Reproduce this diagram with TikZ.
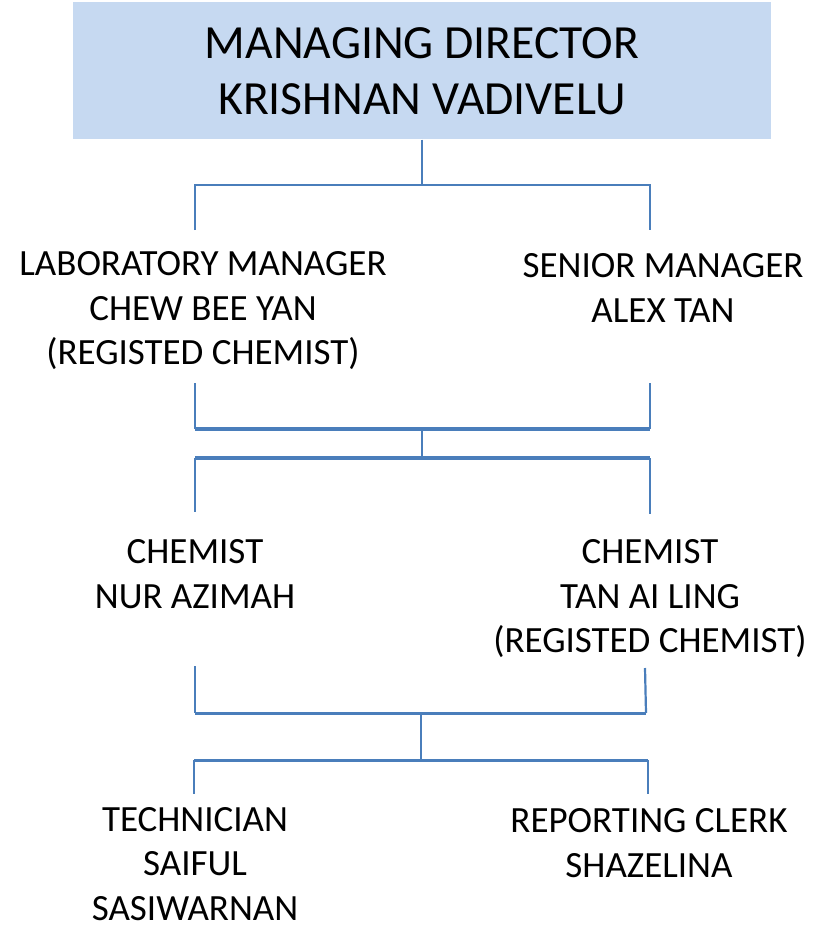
\documentclass[tikz,border=0pt]{standalone}
\usepackage{fontspec}
\setmainfont{Carlito}
\definecolor{boxblue}{HTML}{C6D9F1}
\definecolor{lineblue}{HTML}{4A7EBB}
\begin{document}
\begin{tikzpicture}[x=1pt,y=-1pt,
  person/.style={align=center,inner sep=0pt,font=\fontsize{37}{44.5}\selectfont},
  conn/.style={draw=lineblue,line width=2.2pt},
  connthick/.style={draw=lineblue,line width=4pt},
  connmid/.style={draw=lineblue,line width=3pt}]
\useasboundingbox (0,0) rectangle (820,925);
\node[fill=boxblue,minimum width=698pt,minimum height=137pt,inner sep=0pt,align=center,
      font=\fontsize{47.6}{55.5}\selectfont] (md) at (422,71) {MANAGING DIRECTOR\\KRISHNAN VADIVELU};
\node[person] (lab) at (203,311) {LABORATORY MANAGER\\CHEW BEE YAN\\(REGISTED CHEMIST)};
\node[person] (sen) at (663,288) {SENIOR MANAGER\\ALEX TAN};
\node[person] (ch1) at (195,574) {CHEMIST\\NUR AZIMAH};
\node[person] (ch2) at (650,599) {CHEMIST\\TAN AI LING\\(REGISTED CHEMIST)};
\node[person] (tec) at (195,864) {TECHNICIAN\\SAIFUL\\SASIWARNAN};
\node[person] (clk) at (649,843) {REPORTING CLERK\\SHAZELINA};
% level 1 junction
\coordinate (a0) at (422,185);
\coordinate (aL) at (195,185); \coordinate (aR) at (650,185);
\coordinate (aLe) at (195,230); \coordinate (aRe) at (650,230);
\draw[conn] (md.south -| a0) -- (a0);
\draw[conn] (aLe) -- (aL) -- (aR) -- (aRe);
% level 2 junction
\coordinate (bLs) at (195,383); \coordinate (bRs) at (650,383);
\coordinate (bL) at (195,429); \coordinate (bR) at (650,429);
\coordinate (bM) at (422,429); \coordinate (cM) at (422,458);
\coordinate (cL) at (195,458); \coordinate (cR) at (650,458);
\coordinate (cLe) at (195,512); \coordinate (cRe) at (650,514);
\draw[conn] (bLs) -- (bL);
\draw[conn] (bRs) -- (bR);
\draw[connthick] (bL) -- (bR);
\draw[conn] (bM) -- (cM);
\draw[connthick] (cL) -- (cR);
\draw[conn] (cL) -- (cLe);
\draw[conn] (cR) -- (cRe);
% level 3 junction
\coordinate (dLs) at (195,666); \coordinate (dRs) at (645,668);
\coordinate (dL) at (195,713); \coordinate (dR) at (646,713);
\coordinate (dM) at (421,713); \coordinate (eM) at (421,760);
\coordinate (eL) at (194,760); \coordinate (eR) at (648,760);
\coordinate (eLe) at (194,794); \coordinate (eRe) at (648,794);
\draw[conn] (dLs) -- (dL);
\draw[conn] (dRs) -- (dR);
\draw[connmid] (dL) -- (dR);
\draw[conn] (dM) -- (eM);
\draw[connmid] (eL) -- (eR);
\draw[conn] (eL) -- (eLe);
\draw[conn] (eR) -- (eRe);
\end{tikzpicture}
\end{document}
